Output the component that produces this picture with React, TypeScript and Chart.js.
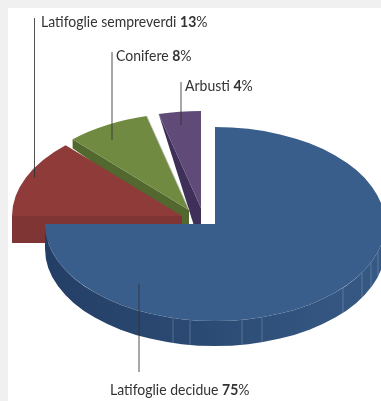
import React, { useEffect, useRef } from "react";
import { Chart, registerables } from "chart.js";

Chart.register(...registerables);

// Forest cover shares, clockwise from twelve o'clock.
const categories = ["Latifoglie decidue", "Latifoglie sempreverdi", "Conifere", "Arbusti"];
const shares = [75, 13, 8, 4];

const topColors = ["#3a5e8b", "#8e3b3a", "#708b41", "#5f4a78"];
const wallColors = ["#2b4a73", "#7f3534", "#52682e", "#3f3059"];

// How far each wedge is pulled away from the pie centre, in px.
const pullX = [0, -33, -26, -14];
const pullY = [0, -8, -14, -16];
// Height of the wedge's visible wall at its rim and at its apex.
const rimDepth = [25, 27, 9, 0];
const apexDepth = [25, 27, 20, 40];

// Where seams show on the rim of the big wedge, relative to the centre.
const seamOffsets = [-42, -25, 27, 47, 128, 147, 156, 163];

// Callouts: text anchor and the leader line that goes with each wedge.
const labelX = [102, 33, 108, 177];
const labelY = [387, 19, 53, 83];
const leaderX = [131, 26.5, 104, 173];
const leaderTop = [276, 10, 44, 74];
const leaderBottom = [364, 170, 132, 117];

const TILT = 97 / 170;
const FONT = "Lato, 'Open Sans', sans-serif";
const TEXT_NARROWING = 0.875;

const tiltedPie = {
  id: "tiltedPie",
  beforeDatasetsDraw(chart: any) {
    const { ctx } = chart;
    const arcs = chart.getDatasetMeta(0).data;
    const order = [3, 2, 1, 0];
    for (const i of order) {
      const arc = arcs[i];
      const { x, y, startAngle, endAngle, outerRadius: r } = arc.getProps(
        ["x", "y", "startAngle", "endAngle", "outerRadius"],
        false
      );
      const cx = x + pullX[i];
      const cy = y + pullY[i];
      const ry = r * TILT;

      ctx.save();
      if (i === 0) {
        const shade = ctx.createLinearGradient(cx - r, 0, cx + r, 0);
        shade.addColorStop(0, "#243f66");
        shade.addColorStop(0.45, wallColors[0]);
        shade.addColorStop(0.8, "#33557f");
        shade.addColorStop(1, "#365983");
        ctx.fillStyle = shade;
        ctx.beginPath();
        ctx.ellipse(cx, cy, r, ry, 0, 0, Math.PI);
        ctx.lineTo(cx - r, cy + rimDepth[0]);
        ctx.ellipse(cx, cy + rimDepth[0], r, ry, 0, Math.PI, 0, true);
        ctx.closePath();
        ctx.fill();
        ctx.strokeStyle = "rgba(150,170,200,0.4)";
        ctx.lineWidth = 1;
        for (const dx of seamOffsets) {
          const top = cy + ry * Math.sqrt(1 - (dx * dx) / (r * r));
          ctx.beginPath();
          ctx.moveTo(cx + dx, top);
          ctx.lineTo(cx + dx, top + rimDepth[0]);
          ctx.stroke();
        }
      } else {
        const rimX = cx + r * Math.cos(startAngle);
        const rimY = cy + ry * Math.sin(startAngle);
        ctx.fillStyle = wallColors[i];
        ctx.beginPath();
        ctx.moveTo(rimX, rimY);
        ctx.lineTo(cx, cy);
        ctx.lineTo(cx, cy + apexDepth[i]);
        ctx.lineTo(rimX, rimY + rimDepth[i]);
        ctx.closePath();
        ctx.fill();
      }
      ctx.restore();

      // The wedge's top face is the library's own arc, squashed into the tilt.
      ctx.save();
      ctx.translate(cx, cy);
      ctx.scale(1, TILT);
      ctx.translate(-x, -y);
      arc.draw(ctx);
      ctx.restore();

      // Pale highlight on the green wedge's trailing edge.
      if (i === 2) {
        ctx.save();
        ctx.strokeStyle = "rgba(195,195,195,0.8)";
        ctx.lineWidth = 1;
        ctx.beginPath();
        ctx.moveTo(cx + r * Math.cos(endAngle), cy + ry * Math.sin(endAngle));
        ctx.lineTo(cx, cy);
        ctx.stroke();
        ctx.restore();
      }
    }
    return false;
  },
  afterDraw(chart: any) {
    const { ctx } = chart;
    ctx.save();
    ctx.strokeStyle = "rgba(50,50,50,0.85)";
    ctx.lineWidth = 1;
    categories.forEach((name, i) => {
      ctx.beginPath();
      ctx.moveTo(leaderX[i], leaderTop[i]);
      ctx.lineTo(leaderX[i], leaderBottom[i]);
      ctx.stroke();

      // Condensed caption: regular name, bold figure, regular percent sign.
      ctx.save();
      ctx.translate(labelX[i], labelY[i]);
      ctx.scale(TEXT_NARROWING, 1);
      ctx.fillStyle = "#333";
      ctx.textBaseline = "alphabetic";
      ctx.textAlign = "left";
      let pen = 0;
      const runs: [string, number][] = [
        [`${name} `, 400],
        [`${shares[i]}`, 700],
        ["%", 400],
      ];
      for (const [text, weight] of runs) {
        ctx.font = `${weight} 16px ${FONT}`;
        ctx.fillText(text, pen, 0);
        pen += ctx.measureText(text).width;
      }
      ctx.restore();
    });
    ctx.restore();
  },
};

export default function App() {
  const ref = useRef<HTMLCanvasElement>(null);

  useEffect(() => {
    const chart = new Chart(ref.current!, {
      type: "pie",
      data: {
        labels: categories,
        datasets: [{ data: shares, backgroundColor: topColors, borderWidth: 0 }],
      },
      options: {
        responsive: false,
        animation: false,
        radius: 170,
        layout: { padding: { left: 41, top: 39 } },
        plugins: { legend: { display: false }, tooltip: { enabled: false } },
      },
      plugins: [tiltedPie],
    } as any);
    return () => chart.destroy();
  }, []);

  return (
    <div style={{ position: "fixed", inset: 0, background: "#f0f0f0", overflow: "hidden" }}>
      <canvas
        ref={ref}
        width={373}
        height={393}
        style={{ position: "absolute", left: 8, top: 8, width: 373, height: 393, background: "#fff" }}
      />
    </div>
  );
}
